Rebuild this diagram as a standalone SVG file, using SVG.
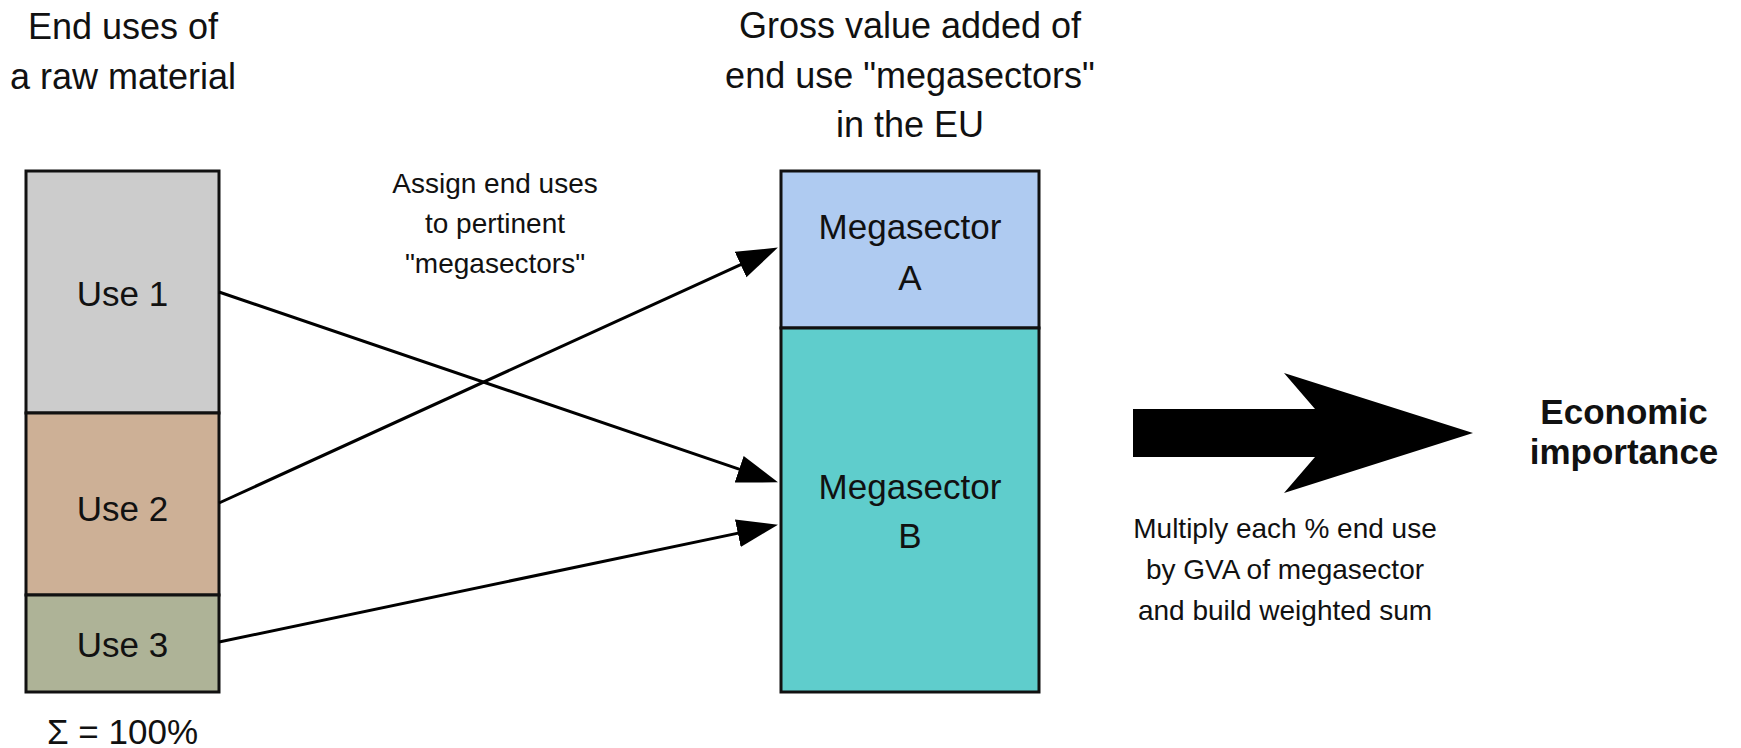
<svg xmlns="http://www.w3.org/2000/svg" width="1741" height="748" viewBox="0 0 1741 748">
<style>
text{font-family:"Liberation Sans",Arial,sans-serif;fill:#111;text-anchor:middle}
.t{font-size:36px}
.n{font-size:35px}
.s{font-size:28px}
.b{font-size:35px;font-weight:bold}
.box{stroke:#111;stroke-width:3}
.con{stroke:#000;stroke-width:3;fill:none;marker-end:url(#ah)}
</style>
<defs>
<marker id="ah" markerUnits="userSpaceOnUse" markerWidth="42" markerHeight="30" viewBox="0 0 42 30" refX="20" refY="15" orient="auto">
<path d="M0,1 L41,15 L0,29 Z" fill="#000"/>
</marker>
</defs>
<rect width="1741" height="748" fill="#fff"/>
<g id="title-left">
<text class="t" x="123" y="39">End uses of</text>
<text class="t" x="123" y="89">a raw material</text>
</g>
<g id="title-right">
<text class="t" x="910" y="38">Gross value added of</text>
<text class="t" x="910" y="88">end use "megasectors"</text>
<text class="t" x="910" y="137">in the EU</text>
</g>
<g id="use1">
<rect class="box" x="26" y="171" width="193" height="242" fill="#cccccc"/>
<text class="n" x="122.5" y="306">Use 1</text>
</g>
<g id="use2">
<rect class="box" x="26" y="413" width="193" height="182" fill="#cdb096"/>
<text class="n" x="122.5" y="521">Use 2</text>
</g>
<g id="use3">
<rect class="box" x="26" y="595" width="193" height="97" fill="#aeb397"/>
<text class="n" x="122.5" y="657">Use 3</text>
</g>
<g id="sum">
<text class="n" x="122.5" y="744">Σ = 100%</text>
</g>
<g id="megaA">
<rect class="box" x="781" y="171" width="258" height="157" fill="#afcbf1"/>
<text class="n" x="910" y="239">Megasector</text>
<text class="n" x="910" y="290">A</text>
</g>
<g id="megaB">
<rect class="box" x="781" y="328" width="258" height="364" fill="#5fcdcc"/>
<text class="n" x="910" y="499">Megasector</text>
<text class="n" x="910" y="548">B</text>
</g>
<g id="assign-label">
<text class="s" x="495" y="193">Assign end uses</text>
<text class="s" x="495" y="233">to pertinent</text>
<text class="s" x="495" y="273">"megasectors"</text>
</g>
<g id="connectors">
<line class="con" x1="219" y1="292" x2="758.1" y2="475.6"/>
<line class="con" x1="219" y1="503" x2="758.8" y2="256.3"/>
<line class="con" x1="219" y1="642" x2="757.4" y2="529.1"/>
</g>
<g id="big-arrow">
<polygon points="1133,409 1315,409 1284,373 1473,433 1284,493 1315,457 1133,457" fill="#000"/>
</g>
<g id="multiply-label">
<text class="s" x="1285" y="538">Multiply each % end use</text>
<text class="s" x="1285" y="579">by GVA of megasector</text>
<text class="s" x="1285" y="620">and build weighted sum</text>
</g>
<g id="economic">
<text class="b" x="1624" y="424">Economic</text>
<text class="b" x="1624" y="464">importance</text>
</g>
</svg>
